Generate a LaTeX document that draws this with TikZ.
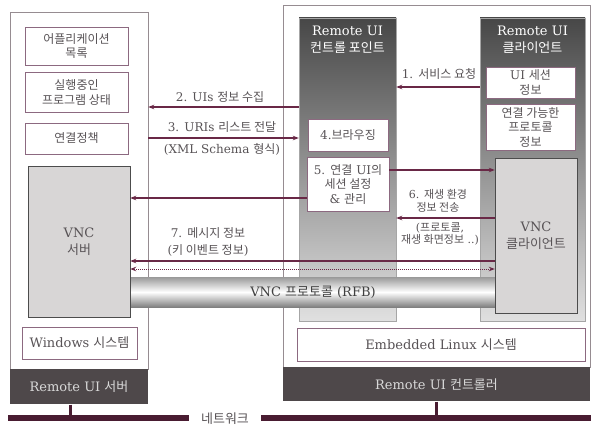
\documentclass[tikz,border=0pt]{standalone}
\usepackage{fontspec}
\setmainfont{DejaVu Serif}
\newfontfamily\korfont{Noto Sans CJK KR}
\newcommand{\kor}[1]{{\korfont #1}}
\usetikzlibrary{positioning, calc, arrows.meta}
\definecolor{msgline}{RGB}{105,40,70}
\definecolor{boxline}{RGB}{140,105,128}
\definecolor{frameline}{RGB}{150,140,145}
\definecolor{darkbar}{RGB}{78,72,74}
\definecolor{vncfill}{RGB}{216,214,214}
\definecolor{txt}{RGB}{88,83,86}

\begin{document}
\begin{tikzpicture}[
  x=1pt, y=-1pt,
  font=\fontsize{12}{14.5}\selectfont,
  box/.style={rectangle, draw=boxline, fill=white, align=center, inner sep=0pt, text=txt},
  syslayer/.style={rectangle, draw=frameline, fill=white, inner sep=0pt},
  colbox/.style={rectangle, draw=gray!70, top color=black!72, bottom color=black!12, inner sep=0pt},
  vncbox/.style={rectangle, draw=gray!60!black, fill=vncfill, align=center, inner sep=0pt, text=txt, font=\fontsize{13}{17}\selectfont},
  bar/.style={rectangle, fill=darkbar, text=white!85!black, inner sep=0pt, font=\fontsize{13}{17}\selectfont},
  title/.style={align=center, text=white, inner sep=0pt, font=\fontsize{13}{17}\selectfont},
  pipe/.style={rectangle, top color=black!40, bottom color=black!50, middle color=white, inner sep=0pt, text=black!75, font=\fontsize{13}{17}\selectfont},
  arrow/.style={-{Stealth[length=6pt, width=4.5pt]}, line width=1.1pt, msgline},
  dotarrow/.style={{Stealth[length=6pt, width=4.5pt]}-{Stealth[length=6pt, width=4.5pt]}, line width=1pt, densely dotted, msgline},
  lbl/.style={align=center, text=txt, inner sep=1pt},
  net/.style={line width=6pt, msgline!70!black},
  tap/.style={line width=3pt, msgline!70!black}
]
\path[use as bounding box, fill=white] (0,0) rectangle (591,428);

% Remote UI server side
\node[syslayer, minimum width=138pt, minimum height=357pt] (leftsys) at (79,190.5) {};
\node[bar, below=0pt of leftsys, minimum width=138pt, minimum height=35pt] (srvbar) {Remote UI \kor{서버}};
\node[box, minimum width=103pt, minimum height=38pt] (applist) at (76.5,46) {\kor{어플리케이션}\\\kor{목록}};
\node[box, below=7pt of applist, minimum width=103pt, minimum height=40pt] (progstate) {\kor{실행중인}\\\kor{프로그램 상태}};
\node[box, below=10pt of progstate, minimum width=103pt, minimum height=31pt] (policy) {\kor{연결정책}};
\node[box, minimum width=115pt, minimum height=32pt, font=\fontsize{13}{17}\selectfont] (winsys) at (79.5,343) {Windows \kor{시스템}};

% Remote UI controller side
\node[syslayer, minimum width=307pt, minimum height=362pt] (ctrlsys) at (436.5,186) {};
\node[bar, below=0pt of ctrlsys, minimum width=307pt, minimum height=34pt] (ctrlbar) {Remote UI \kor{컨트롤러}};
\node[box, minimum width=288pt, minimum height=33pt, font=\fontsize{13}{17}\selectfont] (linuxsys) at (441,344.5) {Embedded Linux \kor{시스템}};

% control point and client columns
\node[colbox, minimum width=97pt, minimum height=303pt] (cpcol) at (347.5,169.5) {};
\node[colbox, minimum width=105pt, minimum height=303pt] (clcol) at (532.5,169.5) {};
\node[title, below=8pt of cpcol.north] (cptitle) {Remote UI\\\kor{컨트롤 포인트}};
\node[title, below=8pt of clcol.north] (cltitle) {Remote UI\\\kor{클라이언트}};

\node[box, minimum width=80pt, minimum height=32pt] (browse) at (348,135) {4.\kor{브라우징}};
\node[box, below=6pt of browse, minimum width=82pt, minimum height=54pt] (session) {5. \kor{연결} UI\kor{의}\\\kor{세션 설정}\\\& \kor{관리}};
\node[box, minimum width=89pt, minimum height=31pt] (uisess) at (530.5,82.5) {UI \kor{세션}\\\kor{정보}};
\node[box, below=6pt of uisess, minimum width=89pt, minimum height=46pt] (protoinfo) {\kor{연결 가능한}\\\kor{프로토콜}\\\kor{정보}};

% VNC pipe and end points
\node[pipe, minimum width=366pt, minimum height=30pt] (rfb) at (313,292) {VNC \kor{프로토콜} (RFB)};
\node[vncbox, minimum width=102pt, minimum height=151pt] (vncsrv) at (79,241.5) {VNC\\\kor{서버}};
\node[vncbox, minimum width=82pt, minimum height=155pt] (vnccli) at (536,235.5) {VNC\\\kor{클라이언트}};

% message rows
\coordinate (r1) at (0,87);
\coordinate (r2) at (0,107);
\coordinate (r3) at (0,138);
\coordinate (r4) at (0,170);
\coordinate (r5) at (0,198);
\coordinate (r6) at (0,218);
\coordinate (r7) at (0,261);
\coordinate (r8) at (0,269);

\draw[arrow] (clcol.west |- r1) -- (cpcol.east |- r1);
\draw[arrow] (cpcol.west |- r2) -- (leftsys.east |- r2);
\draw[arrow] (leftsys.east |- r3) -- (cpcol.west |- r3);
\draw[arrow] (session.east |- r4) -- (vnccli.west |- r4);
\draw[arrow] (session.west |- r5) -- (vncsrv.east |- r5);
\draw[arrow] (vnccli.west |- r6) -- (cpcol.east |- r6);
\draw[arrow] (vnccli.west |- r7) -- (vncsrv.east |- r7);
\draw[dotarrow] (vncsrv.east |- r8) -- (vnccli.west |- r8);

\node[lbl] (lbl1) at (439,74) {1. \kor{서비스 요청}};
\node[lbl] (lbl2) at (220,97) {2. UIs \kor{정보 수집}};
\node[lbl] (lbl3a) at (222,127) {3. URIs \kor{리스트 전달}};
\node[lbl] (lbl3b) at (222,149) {(XML Schema \kor{형식})};
\node[lbl, font=\fontsize{11}{12.5}\selectfont] (lbl6a) at (438,201) {6. \kor{재생 환경}\\\kor{정보 전송}};
\node[lbl, font=\fontsize{11}{12.5}\selectfont] (lbl6b) at (440,234) {(\kor{프로토콜},\\\kor{재생 화면정보} ..)};
\node[lbl] (lbl7a) at (208,233) {7. \kor{메시지 정보}};
\node[lbl] (lbl7b) at (208,250) {(\kor{키 이벤트 정보})};

% network
\coordinate (netw) at (8,418);
\coordinate (nete) at (591,418);
\coordinate (tapA) at (70,418);
\coordinate (tapB) at (436,418);
\node[lbl, inner xsep=12pt, font=\fontsize{13}{17}\selectfont] (netlabel) at (225,419) {\kor{네트워크}};
\draw[net] (netw) -- (netlabel.west |- netw);
\draw[net] (netlabel.east |- nete) -- (nete);
\draw[tap] (srvbar.south -| tapA) -- (tapA);
\draw[tap] (ctrlbar.south -| tapB) -- (tapB);

\end{tikzpicture}
\end{document}
